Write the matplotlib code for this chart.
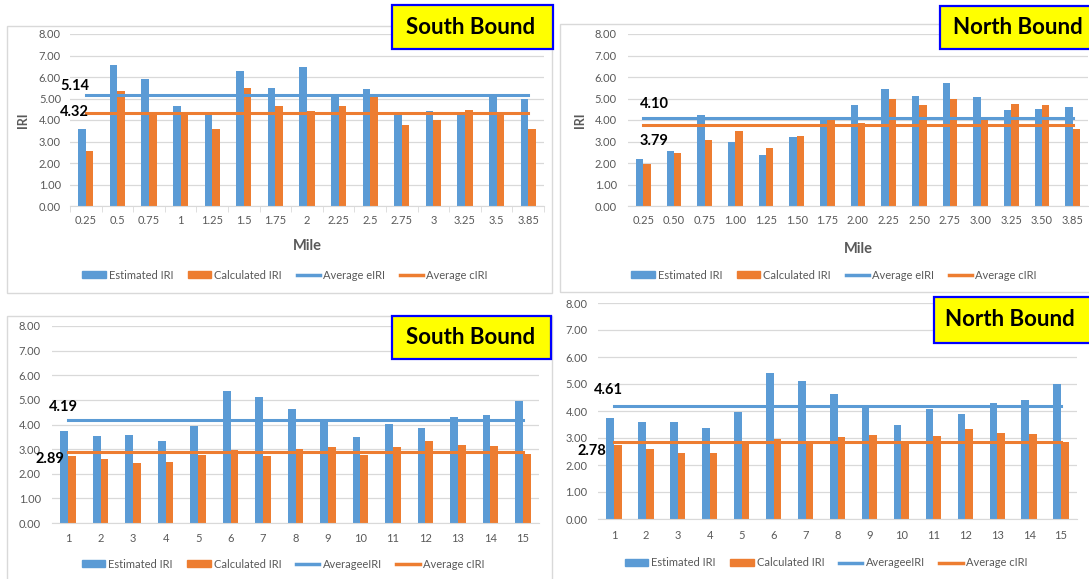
import numpy as np
import matplotlib.pyplot as plt
from matplotlib.patches import Rectangle, Patch
from matplotlib.lines import Line2D

plt.rcParams['font.family'] = ['Lato', 'DejaVu Sans']

W, H = 1089, 579
BLUE = '#5B9BD5'
ORANGE = '#ED7D31'
GRID = '#D9D9D9'
TXT = '#595959'

# ---- data ----
miles_sb = ['0.25', '0.5', '0.75', '1', '1.25', '1.5', '1.75', '2', '2.25', '2.5',
            '2.75', '3', '3.25', '3.5', '3.85']
miles_nb = ['0.25', '0.50', '0.75', '1.00', '1.25', '1.50', '1.75', '2.00', '2.25', '2.50',
            '2.75', '3.00', '3.25', '3.50', '3.85']
sections = [str(i) for i in range(1, 16)]

sb1_est = [3.60, 6.54, 5.92, 4.64, 4.30, 6.29, 5.47, 6.46, 5.16, 5.42, 4.30, 4.44, 4.30, 5.12, 4.98]
sb1_calc = [2.58, 5.34, 4.35, 4.35, 3.56, 5.47, 4.66, 4.41, 4.63, 5.06, 3.79, 4.02, 4.46, 4.35, 3.56]
sb1_avg = [5.14, 4.32]
sb1_avg_txt = ['5.14', '4.32']

nb1_est = [2.19, 2.56, 4.22, 3.00, 2.38, 3.21, 4.12, 4.68, 5.44, 5.10, 5.73, 5.05, 4.45, 4.49, 4.59]
nb1_calc = [1.96, 2.46, 3.07, 3.51, 2.69, 3.26, 4.05, 3.86, 4.97, 4.68, 4.97, 4.05, 4.74, 4.71, 3.58]
nb1_avg = [4.10, 3.79]
nb1_avg_txt = ['4.10', '3.79']

sb2_est = [3.72, 3.54, 3.59, 3.35, 3.95, 5.38, 5.11, 4.64, 4.19, 3.50, 4.04, 3.86, 4.31, 4.39, 4.97]
sb2_calc = [2.73, 2.58, 2.43, 2.46, 2.76, 2.96, 2.73, 3.00, 3.08, 2.76, 3.08, 3.32, 3.16, 3.14, 2.82]
sb2_avg = [4.19, 2.89]
sb2_avg_txt = ['4.19', '2.89']

nb2_est = [3.75, 3.58, 3.59, 3.36, 3.95, 5.40, 5.10, 4.63, 4.19, 3.50, 4.07, 3.89, 4.31, 4.41, 5.00]
nb2_calc = [2.74, 2.61, 2.44, 2.46, 2.76, 2.98, 2.76, 3.03, 3.10, 2.80, 3.08, 3.32, 3.17, 3.13, 2.84]
nb2_avg = [4.17, 2.87]
nb2_avg_txt = ['4.61', '2.78']

legend_top = ['Estimated IRI', 'Calculated IRI', 'Average eIRI', 'Average cIRI']
legend_bot = ['Estimated IRI', 'Calculated IRI', 'AverageeIRI', 'Average cIRI']


def fx(x):
    return x / W


def fy(y):
    return 1 - y / H


def rect(x0, y0, x1, y1):
    return [fx(x0), fy(y1), (x1 - x0) / W, (y1 - y0) / H]


fig = plt.figure(figsize=(W / 100, H / 100), dpi=100)


def frame(x0, y0, x1, y1):
    fig.add_artist(Rectangle((fx(x0), fy(y1)), (x1 - x0) / W, (y1 - y0) / H,
                             transform=fig.transFigure, fill=False, ec=GRID, lw=1.0))


def title_box(x0, y0, x1, y1, text, tx):
    fig.add_artist(Rectangle((fx(x0), fy(y1)), (x1 - x0) / W, (y1 - y0) / H,
                             transform=fig.transFigure, fc='#FFFF00', ec='#0000FF', lw=1.6,
                             zorder=10))
    fig.text(fx(tx), fy((y0 + y1) / 2), text, ha='center', va='center',
             fontsize=16, fontweight='bold', color='black', zorder=11)


def panel(box, cats, est, calc, avg, avg_txt, avg_pos, leg_labels, leg_pos,
          ylabel=False, xlabel=False, minor=False, xpad=6.5, ypad=6.5):
    ax = fig.add_axes(rect(*box))
    x = np.arange(len(cats))
    w = 0.24
    ax.bar(x - w / 2, est, w, color=BLUE, zorder=2)
    ax.bar(x + w / 2, calc, w, color=ORANGE, zorder=2)
    ax.plot([x[0], x[-1]], [avg[0], avg[0]], color=BLUE, lw=2.2, zorder=3)
    ax.plot([x[0], x[-1]], [avg[1], avg[1]], color=ORANGE, lw=2.2, zorder=3)
    ax.set_xlim(-0.5, len(cats) - 0.5)
    ax.set_ylim(0, 8)
    ax.set_yticks(np.arange(0, 9, 1))
    ax.set_yticklabels(['%.2f' % v for v in np.arange(0, 9, 1)])
    ax.set_xticks(x)
    ax.set_xticklabels(cats)
    ax.tick_params(axis='both', length=0, labelsize=8, labelcolor=TXT)
    ax.tick_params(axis='x', pad=xpad)
    ax.tick_params(axis='y', pad=ypad)
    if minor:
        ax.set_xticks(np.arange(-0.5, len(cats), 1), minor=True)
        ax.tick_params(axis='x', which='minor', length=4, color=GRID, direction='out')
    ax.yaxis.grid(True, color=GRID, lw=0.9)
    ax.set_axisbelow(True)
    for s in ['top', 'right', 'left']:
        ax.spines[s].set_visible(False)
    ax.spines['bottom'].set_color(GRID)
    ax.patch.set_alpha(0)
    if ylabel:
        ax.set_ylabel('IRI', fontsize=9, fontweight='bold', color=TXT)
        ax.yaxis.set_label_coords(*ylabel)
    if xlabel:
        ax.set_xlabel('Mile', fontsize=10.5, fontweight='bold', color=TXT)
        ax.xaxis.set_label_coords(*xlabel)
    for (px, py), t in zip(avg_pos, avg_txt):
        fig.text(fx(px), fy(py), t, ha='left', va='center', fontsize=10.5,
                 fontweight='bold', color='black')
    handles = [Patch(color=BLUE), Patch(color=ORANGE),
               Line2D([], [], color=BLUE, lw=2.5), Line2D([], [], color=ORANGE, lw=2.5)]
    ax.legend(handles, leg_labels, loc='center', bbox_to_anchor=(fx(leg_pos[0]), fy(leg_pos[1])),
              bbox_transform=fig.transFigure, ncol=4, frameon=False, fontsize=8,
              labelcolor=TXT, handlelength=2.1, handleheight=0.6, handletextpad=0.3,
              columnspacing=1.3)
    return ax


# frames of the original screenshots
frame(7, 26, 552, 293)
frame(560, 24, 1100, 292)
frame(7, 316, 552, 600)

panel((70, 34, 544, 206), miles_sb, sb1_est, sb1_calc, sb1_avg, sb1_avg_txt,
      [(60, 86), (60, 112)], legend_top, (285, 275),
      ylabel=(-0.087, 0.5), xlabel=(0.5, -0.19), minor=True)
panel((628, 34, 1088, 206), miles_nb, nb1_est, nb1_calc, nb1_avg, nb1_avg_txt,
      [(640, 104), (640, 141)], legend_top, (834, 275),
      ylabel=(-0.091, 0.5), xlabel=(0.5, -0.21), ypad=8)
panel((52, 326, 539, 523), sections, sb2_est, sb2_calc, sb2_avg, sb2_avg_txt,
      [(49, 407), (35, 459)], legend_bot, (283, 564), ypad=8, xpad=7.5)
panel((598, 303, 1077, 519), sections, nb2_est, nb2_calc, nb2_avg, nb2_avg_txt,
      [(594, 390), (578, 451)], legend_bot, (826, 563), ypad=7.5, xpad=8)

title_box(392, 5, 553, 49, 'South Bound', 471)
title_box(940, 6, 1100, 49, 'North Bound', 1018)
title_box(392, 316, 551, 359, 'South Bound', 471)
title_box(934, 297, 1100, 343, 'North Bound', 1010)

fig.savefig('out.png', dpi=100)
